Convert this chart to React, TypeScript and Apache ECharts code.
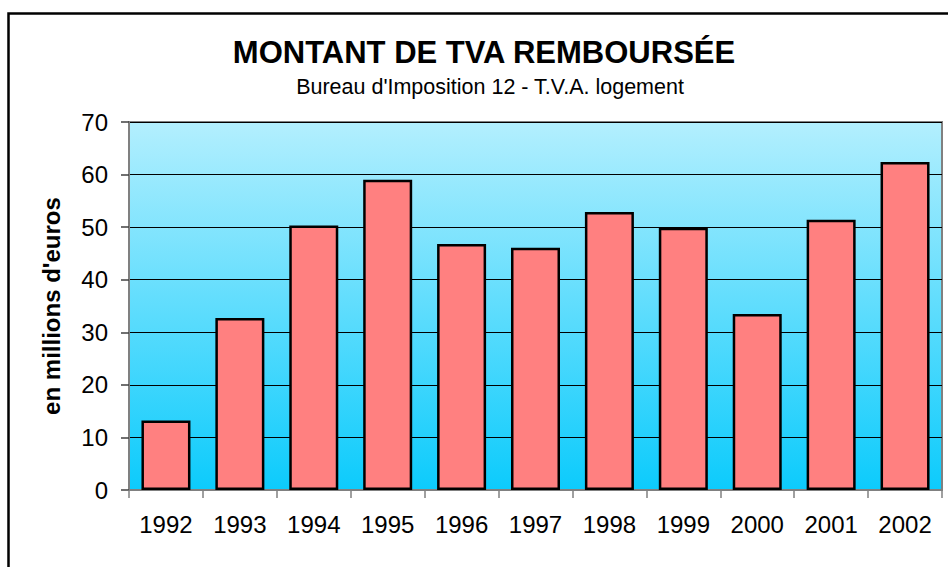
import React, { useEffect, useRef } from "react";
import * as echarts from "echarts";

const years = ["1992", "1993", "1994", "1995", "1996", "1997", "1998", "1999", "2000", "2001", "2002"];
const amounts = [13.2, 32.7, 50.3, 59.0, 46.8, 46.1, 52.9, 49.9, 33.5, 51.4, 62.4];
const yTicks = { min: 0, max: 70, interval: 10 };
const titleText = "MONTANT DE TVA REMBOURSÉE";
const subtitleText = "Bureau d'Imposition 12 - T.V.A. logement";
const yAxisName = "en millions d'euros";

const FONT = "Arial, 'Liberation Sans', sans-serif";

export default function App() {
  const ref = useRef<HTMLDivElement>(null);
  useEffect(() => {
    document.body.style.margin = "0";
    const chart = echarts.init(ref.current!, null, { renderer: "svg" });
    chart.setOption({
      animation: false,
      backgroundColor: "#ffffff",
      textStyle: { fontFamily: FONT },
      graphic: [
        {
          type: "rect",
          shape: { x: 8.5, y: 13.5, width: 1000, height: 1000 },
          style: { fill: "none", stroke: "#000", lineWidth: 2.5 },
          silent: true,
          z: 0,
        },
        {
          type: "text",
          x: 484,
          y: 52,
          style: {
            text: titleText,
            fontFamily: FONT,
            fontWeight: "bold",
            fontSize: 31,
            fill: "#000",
            align: "center",
            verticalAlign: "middle",
          },
        },
        {
          type: "text",
          x: 490,
          y: 87,
          style: {
            text: subtitleText,
            fontFamily: FONT,
            fontSize: 21.5,
            fill: "#000",
            align: "center",
            verticalAlign: "middle",
          },
        },
      ],
      grid: {
        left: 129,
        top: 122,
        right: 6,
        bottom: 77,
        show: true,
        borderColor: "#808080",
        borderWidth: 2,
        backgroundColor: new echarts.graphic.LinearGradient(0, 0, 0, 1, [
          { offset: 0, color: "#b3effe" },
          { offset: 1, color: "#0ccbfc" },
        ]),
      },
      xAxis: {
        type: "category",
        data: years,
        axisLine: { lineStyle: { color: "#808080", width: 2 } },
        axisTick: { show: true, alignWithLabel: false, length: 8, lineStyle: { color: "#808080", width: 1.5 } },
        axisLabel: { fontSize: 24, color: "#000", margin: 22, fontFamily: FONT },
        splitLine: { show: false },
      },
      yAxis: {
        type: "value",
        min: yTicks.min,
        max: yTicks.max,
        interval: yTicks.interval,
        name: yAxisName,
        nameLocation: "middle",
        nameGap: 66,
        nameTextStyle: { fontSize: 24, fontWeight: "bold", color: "#000", fontFamily: FONT },
        axisLine: { show: true, lineStyle: { color: "#808080", width: 2 } },
        axisTick: { show: true, length: 8, lineStyle: { color: "#404040", width: 1.5 } },
        axisLabel: { fontSize: 24, color: "#000", margin: 21, fontFamily: FONT },
        splitLine: { show: true, lineStyle: { color: "#000", width: 1.2 } },
      },
      series: [
        {
          type: "bar",
          data: amounts,
          barWidth: 49,
          itemStyle: { color: "#ff8080", borderColor: "#000", borderWidth: 2.5 },
          z: 3,
        },
      ],
    });
    return () => chart.dispose();
  }, []);
  return <div ref={ref} style={{ position: "absolute", left: 0, top: 0, width: 948, height: 567 }} />;
}
